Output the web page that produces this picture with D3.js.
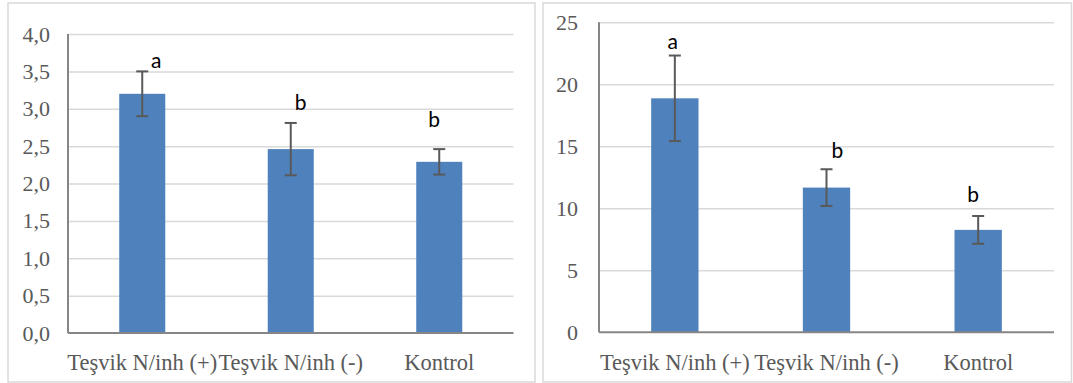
<!DOCTYPE html>
<html>
<head>
<meta charset="utf-8">
<script src="https://cdn.jsdelivr.net/npm/d3@7"></script>
<style>
  html, body { margin: 0; padding: 0; background: #fff; }
  svg { display: block; }
</style>
</head>
<body>
<svg id="chart" width="1073" height="383" font-family="Liberation Serif"></svg>
<script>
// ---- data ----
const categories = ["Teşvik N/inh (+)", "Teşvik N/inh (-)", "Kontrol"];

const leftValues = [3.20, 2.46, 2.29];
const leftErrors = [0.30, 0.35, 0.17];
const leftLetters = ["a", "b", "b"];
const leftLetterValues = [3.65, 3.08, 2.85];
const leftTicks = [0, 0.5, 1.0, 1.5, 2.0, 2.5, 3.0, 3.5, 4.0];

const rightValues = [18.87, 11.67, 8.26];
const rightErrors = [3.45, 1.48, 1.12];
const rightLetters = ["a", "b", "b"];
const rightLetterValues = [23.4, 14.65, 11.13];
const rightTicks = [0, 5, 10, 15, 20, 25];

// ---- styles ----
const barColor = "#4f81bd";
const gridColor = "#d9d9d9";
const axisColor = "#868686";
const errColor = "#595959";
const textColor = "#595959";
const SERIF = "Liberation Serif";
const SANS = "Lato";

const svg = d3.select("#chart");

function panel(cfg) {
  const g = svg.append("g");
  g.append("rect")
    .attr("x", cfg.box[0]).attr("y", cfg.box[1])
    .attr("width", cfg.box[2]).attr("height", cfg.box[3])
    .attr("fill", "#fff").attr("stroke", gridColor).attr("stroke-width", 1.5);

  const x = d3.scaleBand().domain(categories)
    .range([cfg.x0, cfg.x1]).paddingInner(cfg.pad).paddingOuter(cfg.pad / 2);
  const y = d3.scaleLinear().domain(cfg.domain).range([cfg.yBottom, cfg.yTop]);

  const yAxis = d3.axisLeft(y).tickValues(cfg.ticks).tickSize(-(cfg.x1 - cfg.x0))
    .tickPadding(cfg.tickPad).tickFormat(cfg.fmt);
  const ga = g.append("g").attr("transform", `translate(${cfg.x0},0)`).call(yAxis);
  ga.attr("font-family", SERIF).attr("font-size", 22);
  ga.select(".domain").remove();
  ga.selectAll(".tick line").attr("stroke", gridColor).attr("stroke-width", 1.5)
    .filter(d => d === 0).remove();
  ga.selectAll(".tick text")
    .attr("font-family", SERIF)
    .attr("font-size", 22).attr("fill", textColor);

  g.selectAll("rect.bar").data(cfg.values).enter().append("rect")
    .attr("class", "bar")
    .attr("x", (d, i) => x(categories[i]))
    .attr("width", x.bandwidth())
    .attr("y", d => y(d))
    .attr("height", d => y(0) - y(d))
    .attr("fill", barColor);

  g.append("line").attr("x1", cfg.x0).attr("x2", cfg.x0)
    .attr("y1", y(cfg.domain[1])).attr("y2", y(0))
    .attr("stroke", axisColor).attr("stroke-width", 2);
  g.append("line").attr("x1", cfg.x0).attr("x2", cfg.x1)
    .attr("y1", y(0)).attr("y2", y(0))
    .attr("stroke", axisColor).attr("stroke-width", 2);

  const cx = i => x(categories[i]) + x.bandwidth() / 2;
  const eg = g.append("g").attr("stroke", errColor).attr("stroke-width", 2).attr("fill", "none");
  cfg.values.forEach((v, i) => {
    const hi = y(v + cfg.errors[i]), lo = y(v - cfg.errors[i]);
    eg.append("line").attr("x1", cx(i)).attr("x2", cx(i)).attr("y1", hi).attr("y2", lo);
    eg.append("line").attr("x1", cx(i) - 6).attr("x2", cx(i) + 6).attr("y1", hi).attr("y2", hi);
    eg.append("line").attr("x1", cx(i) - 6).attr("x2", cx(i) + 6).attr("y1", lo).attr("y2", lo);
  });

  g.selectAll("text.letter").data(cfg.letters).enter().append("text")
    .attr("class", "letter")
    .attr("x", (d, i) => cx(i) + cfg.letterDx[i])
    .attr("y", (d, i) => y(cfg.letterValues[i]))
    .attr("dy", "0.35em")
    .attr("text-anchor", "middle")
    .attr("font-family", SANS)
    .attr("font-size", 21)
    .attr("fill", "#000")
    .text(d => d);

  g.selectAll("text.cat").data(categories).enter().append("text")
    .attr("class", "cat")
    .attr("x", d => x(d) + x.bandwidth() / 2)
    .attr("y", cfg.labelY)
    .attr("text-anchor", "middle")
    .attr("font-family", SERIF)
    .attr("font-size", 22.5)
    .attr("fill", textColor)
    .text(d => d);
}

panel({
  box: [8, 3, 527, 379],
  x0: 68, x1: 513.5, yTop: 34, yBottom: 333,
  pad: 0.69, tickPad: 18,
  domain: [0, 4],
  ticks: leftTicks,
  fmt: d => d3.format(".1f")(d).replace(".", ","),
  values: leftValues, errors: leftErrors,
  letters: leftLetters, letterValues: leftLetterValues,
  letterDx: [14, 10, -5],
  labelY: 370
});

panel({
  box: [543, 3, 528.5, 379],
  x0: 599, x1: 1054, yTop: 22.3, yBottom: 332.3,
  pad: 0.688, tickPad: 21,
  domain: [0, 25],
  ticks: rightTicks,
  fmt: d => String(d),
  values: rightValues, errors: rightErrors,
  letters: rightLetters, letterValues: rightLetterValues,
  letterDx: [-2, 11, -5],
  labelY: 370
});
</script>
</body>
</html>
